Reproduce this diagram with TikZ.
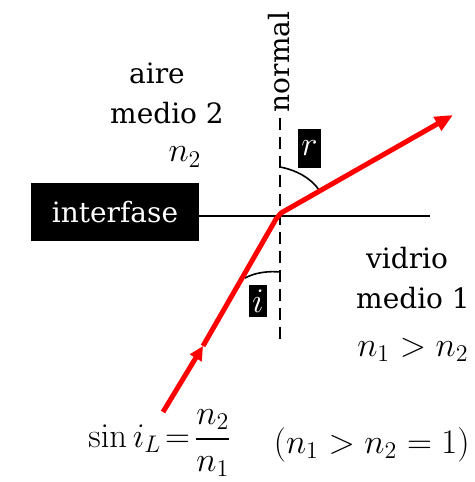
\documentclass[tikz,border=0pt]{standalone}
\usepackage{amsmath}
\usepackage[no-math]{fontspec}
\setmainfont{DejaVu Serif}
\usetikzlibrary{arrows.meta}
\begin{document}
\begin{tikzpicture}[x=0.5pt,y=-0.5pt,
  lbl/.style={font=\fontsize{14}{16}\selectfont, inner sep=0pt},
  mth/.style={font=\fontsize{16.5}{19}\selectfont, inner sep=0pt},
  blackbox/.style={fill=black,text=white,inner sep=0pt},
  ray/.style={red, line width=2.5pt, line join=round},
  normalline/.style={dash pattern=on 6pt off 3.5pt, line width=0.8pt},
  thin line/.style={line width=0.8pt},
  bigtip/.style={-{Triangle[length=9pt,width=7.5pt]}},
  smalltip/.style={-{Triangle[length=7pt,width=6.5pt]}}]
\useasboundingbox (0,0) rectangle (475,482);

% coordinates
\coordinate (O) at (281,213);
\coordinate (K) at (276,219);
\coordinate (S) at (163,412);
\coordinate (M) at (203,346);
\coordinate (E) at (453,115);
\coordinate (Ntop) at (280,118);
\coordinate (Nbot) at (280,345);
\coordinate (Iend) at (430,216);
\coordinate (ra) at (280,167);
\coordinate (rb) at (319,190);
\coordinate (ia) at (280,272);
\coordinate (ib) at (245,278);

% labels
\node[lbl] (aire) at (157,73) {aire};
\node[lbl] (m2) at (167,113) {medio 2};
\node[mth] (n2) at (185,157) {$n_2$};
\node[lbl] (vid) at (407,258) {vidrio};
\node[lbl] (m1) at (413,298) {medio 1};
\node[mth] (n12) at (413,350) {$n_1 > n_2$};
\node[lbl, rotate=90] (nor) at (279,62) {normal};
\node[blackbox, font=\fontsize{14}{16}\selectfont, minimum width=84pt, minimum height=29pt] (inter) at (115,212) {interfase};
\node[blackbox, font=\fontsize{16.5}{19}\selectfont, minimum width=11.5pt, minimum height=19.5pt] (rbox) at (309.5,148.5) {$r$};
\node[blackbox, font=\fontsize{16.5}{19}\selectfont, minimum width=9pt, minimum height=16pt] (ibox) at (258,301) {$i$};
\node[mth, anchor=west] (eq) at (88,443) {$\sin i_L \!=\! \dfrac{n_2}{n_1}$};
\node[mth, anchor=east] (cond) at (470,445) {$(n_1 > n_2 = 1)$};

% interface and normal
\draw[thin line] (inter.east |- Iend) -- (Iend);
\draw[normalline] (Ntop) -- (Nbot);

% angle arcs
\draw[thin line] (ra) .. controls (296,170) and (311,178) .. (rb);
\draw[thin line] (ib) .. controls (256,272) and (270,271) .. (ia);

% rays
\draw[ray, smalltip] (S) -- (M);
\draw[ray, bigtip] (M) -- (K) -- (O) -- (E);
\end{tikzpicture}
\end{document}
